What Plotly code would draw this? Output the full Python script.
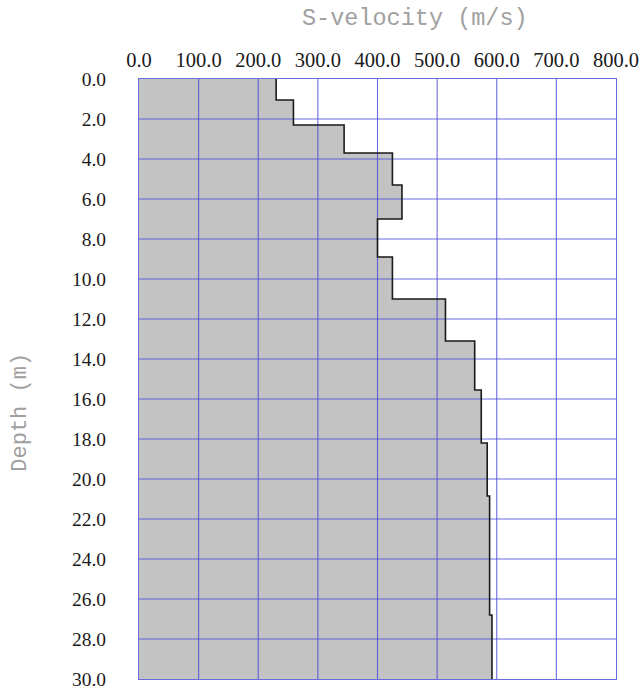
import plotly.graph_objects as go

# Layer tops (m) and shear-wave velocities (m/s) read from the profile
layer_top = [0.0, 1.05, 2.3, 3.7, 5.3, 7.0, 8.9, 11.0, 13.1, 15.55, 18.2, 20.85, 26.8]
velocity = [230, 259, 344, 425, 441, 400, 425, 514, 563, 574, 584, 588, 592]
max_depth = 30.0

x_ticks = [0, 100, 200, 300, 400, 500, 600, 700, 800]
x_tick_labels = ["0.0", "100.0", "200.0", "300.0", "400.0", "500.0", "600.0", "700.0", "800.0"]
y_ticks = list(range(0, 31, 2))
y_tick_labels = [f"{v:.1f}" for v in y_ticks]

# step profile points
px = velocity + [velocity[-1]]
py = layer_top + [max_depth]

grid_color = "rgba(70,70,215,0.8)"

# grid lines (drawn above the fill)
gx, gy = [], []
for v in x_ticks[1:-1]:
    gx += [v, v, None]
    gy += [0, max_depth, None]
for d in y_ticks[1:-1]:
    gx += [x_ticks[0], x_ticks[-1], None]
    gy += [d, d, None]

fig = go.Figure()
fig.add_trace(go.Scatter(x=px, y=py, mode="lines", line=dict(shape="vh", width=0),
                         fill="tozerox", fillcolor="#c3c3c3", hoverinfo="skip", showlegend=False))
fig.add_trace(go.Scatter(x=gx, y=gy, mode="lines", line=dict(color=grid_color, width=1.1),
                         hoverinfo="skip", showlegend=False))
fig.add_trace(go.Scatter(x=px, y=py, mode="lines", line=dict(shape="vh", width=1.6, color="#1a1a1a"),
                         showlegend=False))

fig.update_layout(
    width=640, height=689,
    margin=dict(l=139, r=24, t=79, b=10),
    paper_bgcolor="white", plot_bgcolor="white",
    xaxis=dict(side="top", range=[0, 800], tickvals=x_ticks, ticktext=x_tick_labels,
               showgrid=False, zeroline=False, showline=True, mirror=True, automargin=False,
               linecolor=grid_color, linewidth=1.1, ticks="", ticklabelstandoff=3,
               ticklabeloverflow="allow",
               tickfont=dict(family="Liberation Serif", size=20.5, color="#1a1a1a")),
    yaxis=dict(range=[max_depth, 0], tickvals=y_ticks, ticktext=y_tick_labels,
               showgrid=False, zeroline=False, showline=True, mirror=True, automargin=False,
               linecolor=grid_color, linewidth=1.1, ticks="", ticklabelstandoff=28,
               ticklabeloverflow="allow",
               tickfont=dict(family="Liberation Serif", size=19.5, color="#1a1a1a")),
    annotations=[
        dict(text="S-velocity (m/s)", xref="paper", yref="paper", x=0.579, y=1.1,
             xanchor="center", yanchor="middle", showarrow=False,
             font=dict(family="Liberation Mono", size=23.5, color="#a0a0a0")),
        dict(text="Depth (m)", xref="paper", yref="paper", x=-0.248, y=0.445,
             xanchor="center", yanchor="middle", showarrow=False, textangle=-90,
             font=dict(family="Liberation Mono", size=22, color="#a0a0a0")),
    ],
)

fig.write_html("out.html", config={"displayModeBar": False},
               post_script="document.body.style.margin='0';")
